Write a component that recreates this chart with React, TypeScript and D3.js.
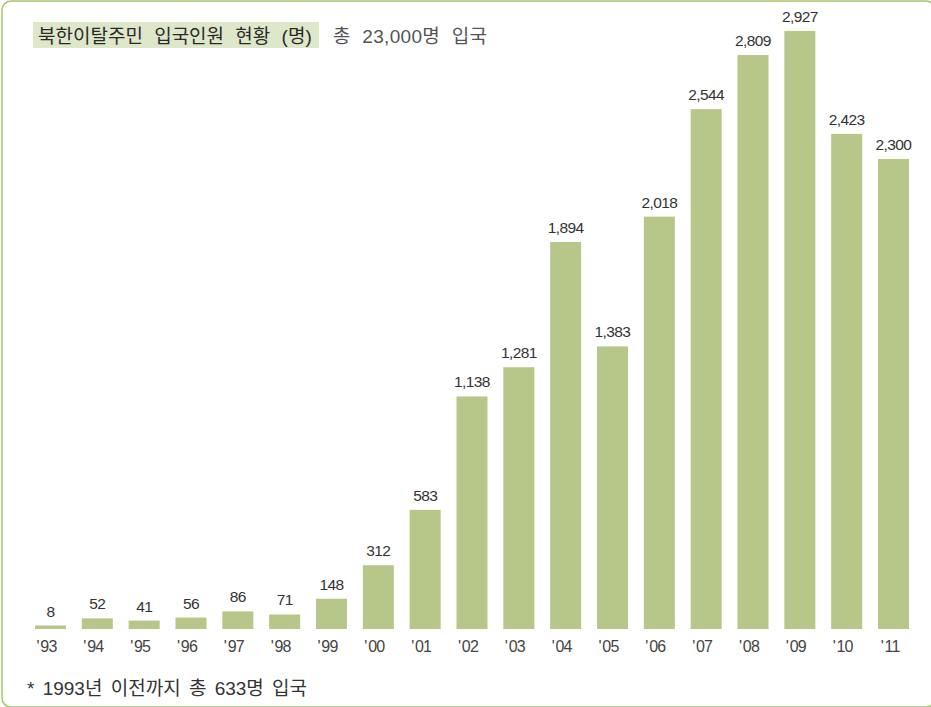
import React from "react";
import * as d3 from "d3";

const years = ["93","94","95","96","97","98","99","00","01","02","03","04","05","06","07","08","09","10","11"];
const values = [8,52,41,56,86,71,148,312,583,1138,1281,1894,1383,2018,2544,2809,2927,2423,2300];
const titleText = "북한이탈주민 입국인원 현황 (명)";
const subtitleText = "총 23,000명 입국";
const footnoteText = "* 1993년 이전까지 총 633명 입국";

const W = 931, H = 707;
const FONT = "'Liberation Sans', Arial, 'Noto Sans CJK KR', sans-serif";

export default function App() {
  const x = d3.scaleBand<string>().domain(years).range([35, 909]).paddingInner(0.338).paddingOuter(0);
  const y = d3.scaleLinear().domain([0, 3000]).range([629, 629 - 613]);
  const fmt = d3.format(",");
  const bw = x.bandwidth();
  return (
    <svg width={W} height={H} style={{ position: "absolute", left: 0, top: 0, background: "#fff" }}>
      <rect x={2} y={1} width={W + 2} height={H - 1} rx={9} ry={9} fill="none" stroke="#a9c46f" strokeWidth={1.5} />
      <rect x={33} y={22} width={286} height={26} fill="#dfe7cb" />
      <text x={38} y={43} fontFamily={FONT} fontSize={19} fill="#2a2a2a" wordSpacing={6}>{titleText}</text>
      <text x={333} y={43} fontFamily={FONT} fontSize={19} fill="#555" wordSpacing={6} letterSpacing={0.3}>{subtitleText}</text>
      {values.map((v, i) => {
        const bx = x(years[i])!;
        const top = y(v);
        const h = Math.max(3.5, y(0) - top);
        return (
          <g key={years[i]}>
            <rect x={bx} y={y(0) - h} width={bw} height={h} fill="#b7c689" />
            <text x={bx + bw / 2} y={y(0) - h - 9} textAnchor="middle" fontFamily={FONT} fontSize={15.5} letterSpacing={-0.6} fill="#333">{fmt(v)}</text>
            <text x={bx + bw / 2 + 6} y={652} textAnchor="end" fontFamily={FONT} fontSize={16} letterSpacing={-0.8} fill="#444">
              <tspan>{"'"}</tspan>
              <tspan dx={1.5}>{years[i]}</tspan>
            </text>
          </g>
        );
      })}
      <text x={27} y={695} fontFamily={FONT} fontSize={19} fill="#333" wordSpacing={3}>{footnoteText}</text>
    </svg>
  );
}
